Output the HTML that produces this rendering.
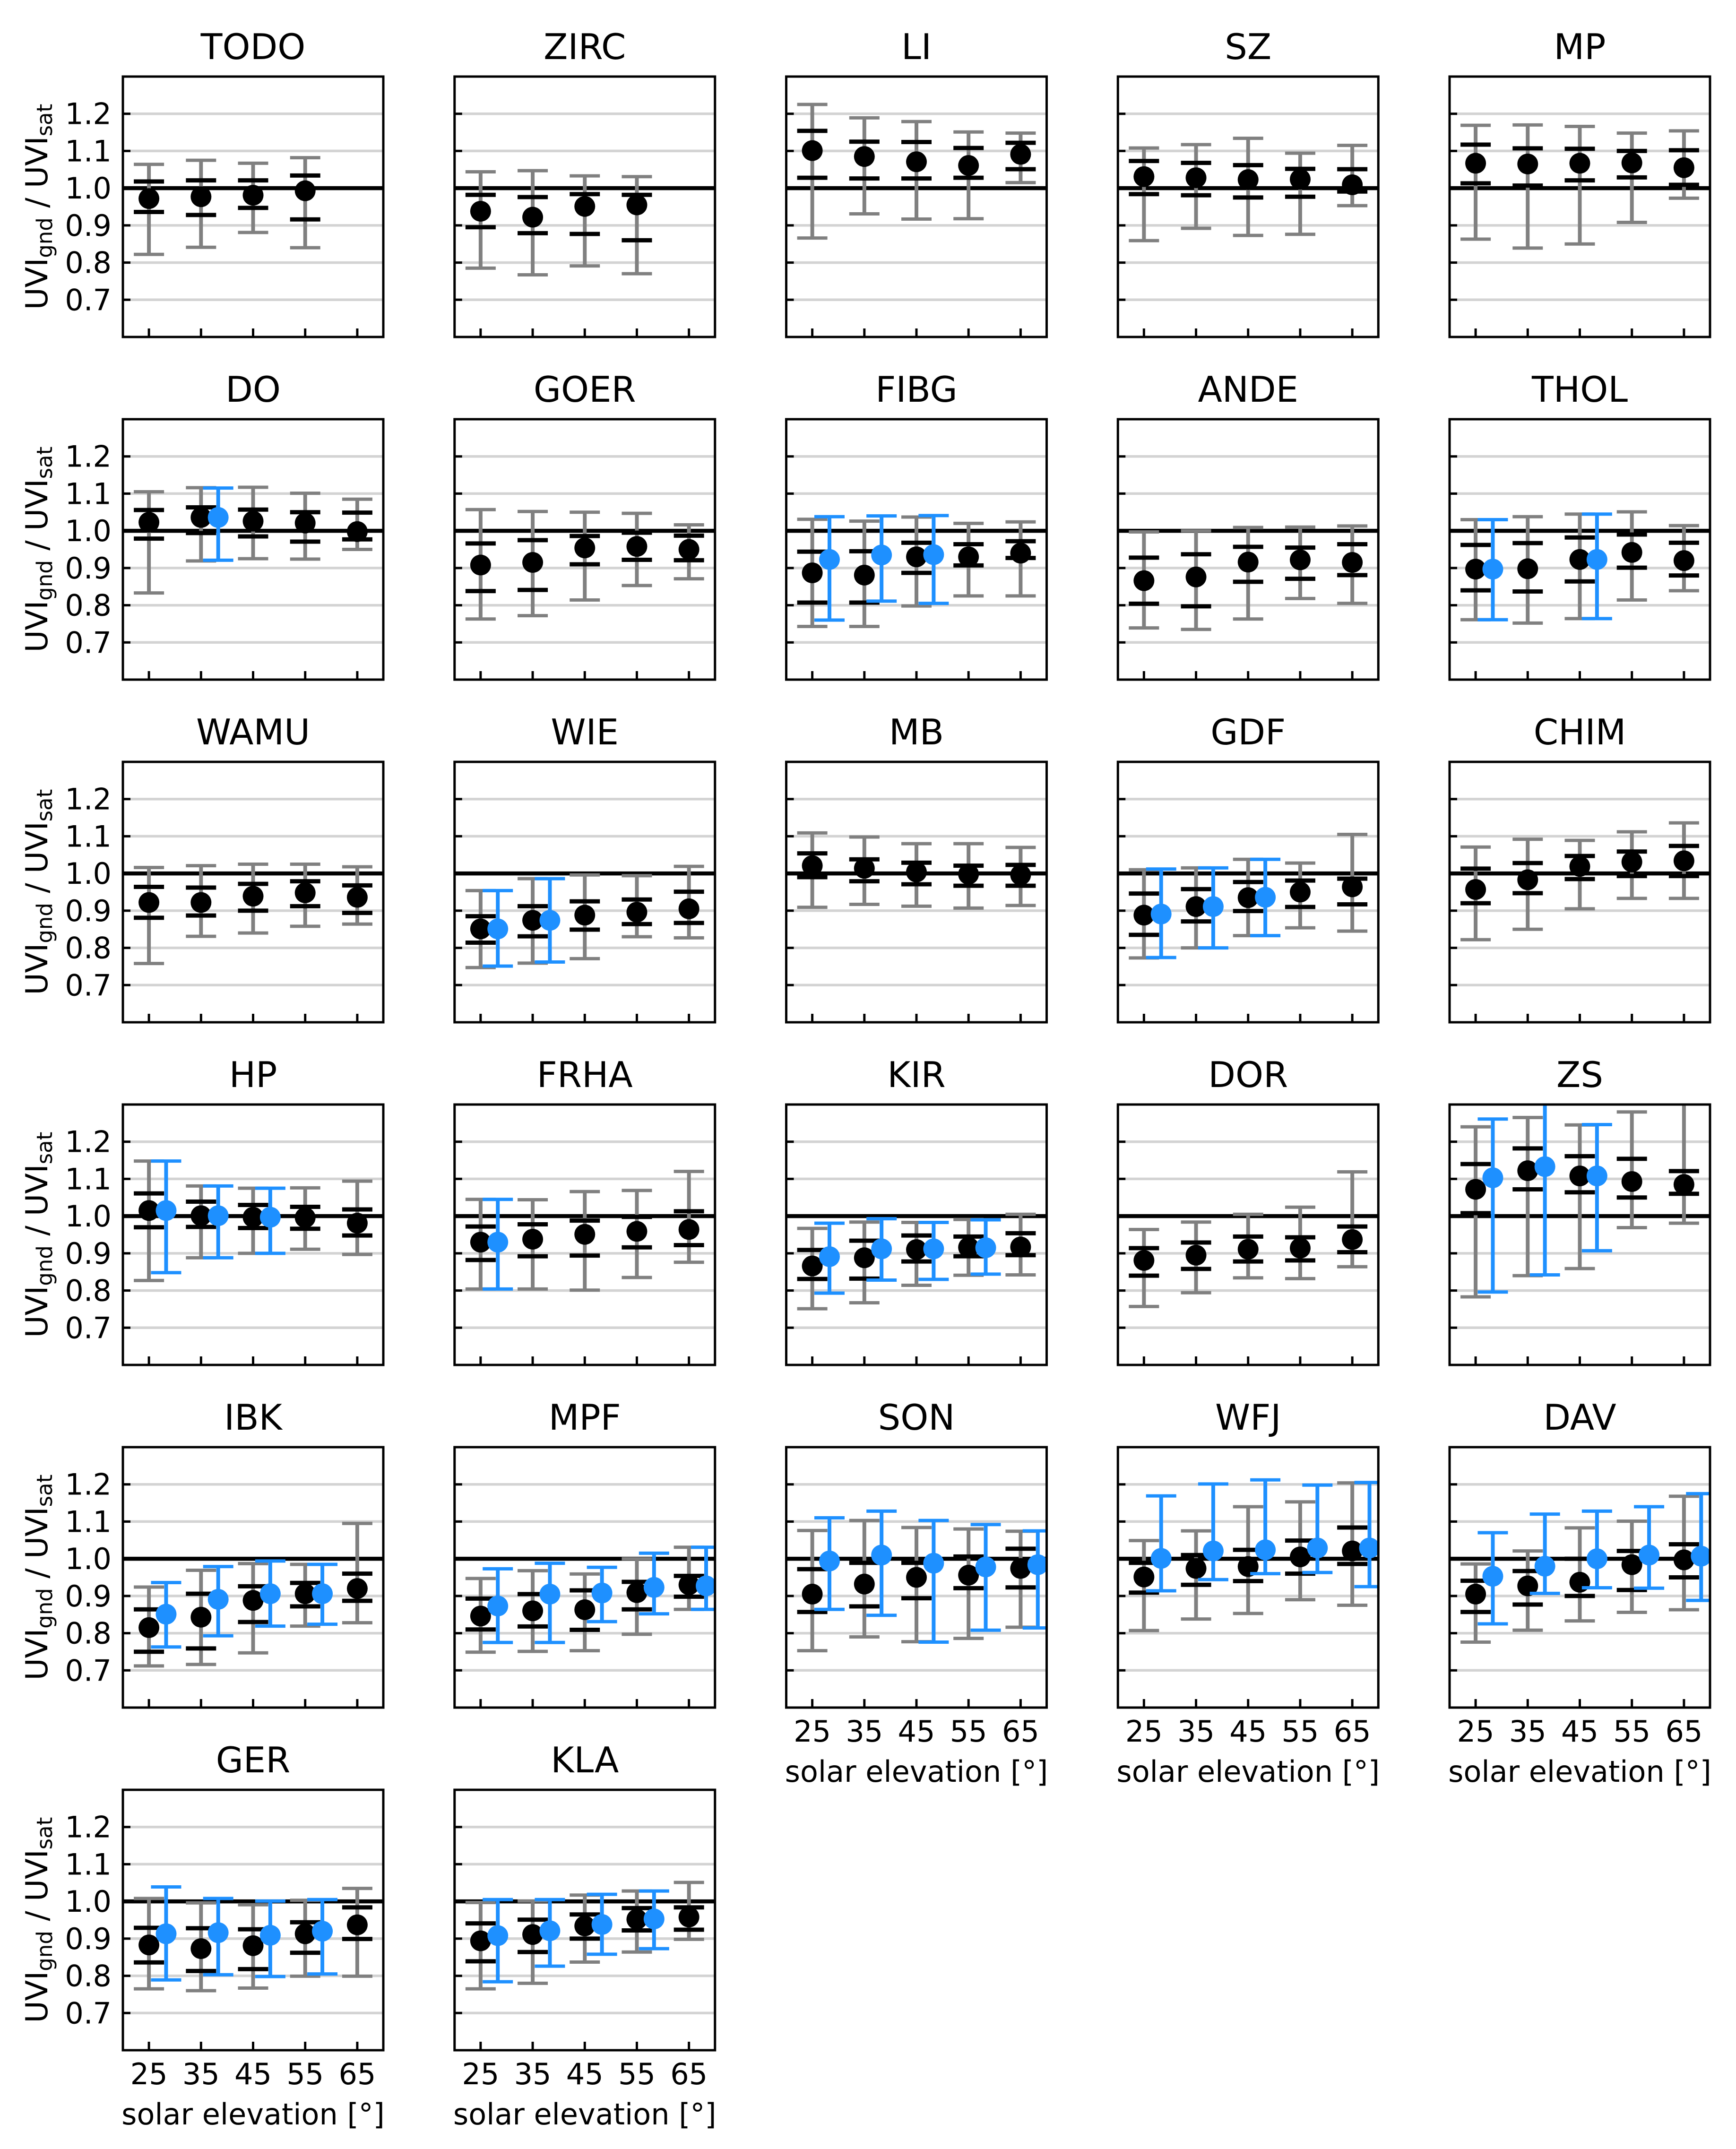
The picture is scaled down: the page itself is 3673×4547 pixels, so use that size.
<!DOCTYPE html>
<html><head><meta charset="utf-8"><title>UVI ratio panels</title>
<style>
html,body{margin:0;padding:0;background:#fff;}
svg{display:block;font-family:"DejaVu Sans","Liberation Sans",sans-serif;}
</style></head>
<body>
<svg id="fig" width="3673" height="4547" viewBox="0 0 3673 4547" xmlns="http://www.w3.org/2000/svg"></svg>
<script>
const stations = ["TODO","ZIRC","LI","SZ","MP","DO","GOER","FIBG","ANDE","THOL","WAMU","WIE","MB","GDF","CHIM","HP","FRHA","KIR","DOR","ZS","IBK","MPF","SON","WFJ","DAV","GER","KLA"];
const elevations = [25,35,45,55,65];
const yTicks = [0.7,0.8,0.9,1.0,1.1,1.2];
const yTickLabels = ["0.7","0.8","0.9","1.0","1.1","1.2"];
const xTickLabels = ["25","35","45","55","65"];
const meanVals = [
[0.972,0.977,0.981,0.993,null],[0.938,0.922,0.951,0.955,null],[1.101,1.085,1.071,1.061,1.091],[1.031,1.028,1.023,1.024,1.009],[1.067,1.065,1.067,1.068,1.055],
[1.023,1.036,1.026,1.021,0.998],[0.908,0.915,0.954,0.958,0.950],[0.887,0.881,0.930,0.930,0.940],[0.866,0.876,0.916,0.922,0.915],[0.897,0.898,0.923,0.942,0.920],
[0.922,0.922,0.939,0.948,0.936],[0.851,0.874,0.888,0.896,0.905],[1.021,1.014,1.004,0.998,0.996],[0.888,0.911,0.935,0.950,0.964],[0.957,0.983,1.019,1.031,1.034],
[1.015,1.001,0.997,0.996,0.981],[0.930,0.938,0.951,0.959,0.964],[0.866,0.888,0.910,0.916,0.917],[0.881,0.895,0.911,0.914,0.937],[1.072,1.122,1.108,1.093,1.085],
[0.815,0.843,0.888,0.906,0.920],[0.846,0.860,0.863,0.909,0.930],[0.905,0.932,0.950,0.956,0.974],[0.951,0.974,0.979,1.005,1.021],[0.905,0.927,0.937,0.984,0.997],
[0.883,0.873,0.881,0.913,0.937],[0.894,0.911,0.934,0.952,0.958]];
const q25Vals = [
[0.936,0.928,0.947,0.916,null],[0.895,0.879,0.877,0.860,null],[1.028,1.026,1.026,1.028,1.051],[0.984,0.981,0.975,0.977,0.991],[1.013,1.007,1.021,1.029,1.009],
[0.979,0.994,0.985,0.971,0.977],[0.838,0.841,0.910,0.922,0.921],[0.807,0.807,0.887,0.907,0.927],[0.804,0.797,0.863,0.871,0.881],[0.840,0.837,0.864,0.901,0.880],
[0.881,0.887,0.900,0.912,0.894],[0.814,0.831,0.849,0.864,0.867],[0.990,0.979,0.971,0.967,0.967],[0.835,0.871,0.899,0.910,0.917],[0.920,0.947,0.985,0.993,0.993],
[0.970,0.971,0.968,0.966,0.948],[0.882,0.892,0.894,0.916,0.922],[0.831,0.832,0.878,0.892,0.895],[0.840,0.858,0.878,0.881,0.903],[1.008,1.072,1.064,1.050,1.060],
[0.750,0.759,0.830,0.872,0.887],[0.810,0.818,0.809,0.864,0.898],[0.857,0.872,0.894,0.921,0.923],[0.909,0.930,0.940,0.960,0.986],[0.857,0.877,0.900,0.916,0.950],
[0.836,0.813,0.818,0.862,0.899],[0.839,0.864,0.900,0.922,0.924]];
const q75Vals = [
[1.018,1.021,1.021,1.034,null],[0.982,0.976,0.984,0.982,null],[1.154,1.125,1.124,1.108,1.122],[1.073,1.068,1.062,1.052,1.051],[1.117,1.107,1.106,1.100,1.102],
[1.056,1.063,1.057,1.050,1.049],[0.966,0.975,0.986,0.995,0.987],[0.944,0.945,0.968,0.964,0.972],[0.928,0.937,0.957,0.955,0.964],[0.962,0.967,0.982,0.990,0.968],
[0.964,0.962,0.972,0.979,0.968],[0.885,0.912,0.925,0.930,0.951],[1.054,1.038,1.029,1.021,1.023],[0.946,0.958,0.977,0.981,0.986],[1.013,1.028,1.047,1.059,1.074],
[1.061,1.039,1.030,1.025,1.018],[0.972,0.978,0.988,0.998,1.013],[0.909,0.934,0.948,0.945,0.954],[0.914,0.929,0.945,0.943,0.972],[1.140,1.182,1.161,1.154,1.121],
[0.864,0.906,0.926,0.935,0.960],[0.893,0.905,0.915,0.938,0.954],[0.972,0.989,0.989,1.006,1.027],[0.989,1.010,1.024,1.049,1.084],[0.941,0.967,1.000,1.021,1.039],
[0.929,0.928,0.925,0.944,0.984],[0.941,0.951,0.965,0.982,0.984]];
const p05Vals = [
[0.822,0.841,0.881,0.840,null],[0.785,0.767,0.791,0.770,null],[0.866,0.931,0.917,0.918,1.015],[0.859,0.892,0.873,0.876,0.953],[0.863,0.839,0.850,0.908,0.973],
[0.833,0.919,0.925,0.924,0.950],[0.763,0.772,0.814,0.853,0.871],[0.743,0.743,0.798,0.825,0.825],[0.739,0.735,0.763,0.818,0.805],[0.761,0.752,0.764,0.814,0.839],
[0.758,0.831,0.840,0.858,0.864],[0.747,0.759,0.771,0.830,0.827],[0.909,0.917,0.912,0.907,0.914],[0.773,0.800,0.833,0.854,0.845],[0.822,0.850,0.905,0.933,0.933],
[0.827,0.888,0.900,0.911,0.897],[0.804,0.804,0.801,0.835,0.876],[0.751,0.767,0.814,0.841,0.842],[0.757,0.794,0.834,0.832,0.864],[0.783,0.840,0.859,0.969,0.981],
[0.712,0.716,0.747,0.819,0.828],[0.749,0.751,0.753,0.797,0.864],[0.753,0.790,0.777,0.786,0.816],[0.807,0.838,0.853,0.890,0.875],[0.776,0.808,0.833,0.856,0.863],
[0.765,0.760,0.767,0.799,0.799],[0.765,0.780,0.837,0.864,0.898]];
const p95Vals = [
[1.064,1.075,1.067,1.082,null],[1.044,1.047,1.033,1.031,null],[1.225,1.189,1.179,1.151,1.148],[1.108,1.117,1.134,1.094,1.115],[1.169,1.170,1.166,1.148,1.154],
[1.105,1.116,1.117,1.101,1.085],[1.057,1.052,1.050,1.047,1.016],[1.031,1.026,1.037,1.020,1.024],[0.997,1.000,1.009,1.010,1.013],[1.030,1.038,1.045,1.051,1.014],
[1.016,1.021,1.025,1.025,1.018],[0.954,0.986,0.996,0.994,1.019],[1.109,1.098,1.080,1.080,1.070],[1.010,1.015,1.038,1.028,1.105],[1.071,1.092,1.089,1.112,1.136],
[1.148,1.081,1.075,1.076,1.094],[1.045,1.044,1.066,1.069,1.120],[0.967,0.984,0.983,0.991,1.005],[0.964,0.984,1.005,1.024,1.119],[1.240,1.265,1.245,1.280,1.320],
[0.924,0.969,0.987,0.985,1.095],[0.947,0.968,0.959,1.000,1.031],[1.076,1.103,1.084,1.080,1.074],[1.049,1.075,1.140,1.153,1.204],[0.986,1.021,1.083,1.101,1.168],
[1.008,0.996,0.991,1.003,1.035],[0.997,1.001,1.017,1.028,1.051]];
const N = null;
const blueMean = [
[N,N,N,N,N],[N,N,N,N,N],[N,N,N,N,N],[N,N,N,N,N],[N,N,N,N,N],
[N,1.036,N,N,N],[N,N,N,N,N],[0.923,0.935,0.936,N,N],[N,N,N,N,N],[0.897,N,0.923,N,N],
[N,N,N,N,N],[0.851,0.874,N,N,N],[N,N,N,N,N],[0.891,0.911,0.936,N,N],[N,N,N,N,N],
[1.015,1.001,0.997,N,N],[0.930,N,N,N,N],[0.891,0.912,0.912,0.915,N],[N,N,N,N,N],[1.103,1.133,1.108,N,N],
[0.851,0.891,0.906,0.906,N],[0.873,0.905,0.908,0.923,0.927],[0.994,1.010,0.988,0.978,0.984],[1.001,1.021,1.024,1.029,1.029],[0.953,0.980,1.000,1.010,1.007],
[0.913,0.916,0.909,0.920,N],[0.908,0.921,0.938,0.953,N]];
const blueLo = [
[N,N,N,N,N],[N,N,N,N,N],[N,N,N,N,N],[N,N,N,N,N],[N,N,N,N,N],
[N,0.921,N,N,N],[N,N,N,N,N],[0.760,0.811,0.805,N,N],[N,N,N,N,N],[0.761,N,0.764,N,N],
[N,N,N,N,N],[0.751,0.762,N,N,N],[N,N,N,N,N],[0.774,0.800,0.833,N,N],[N,N,N,N,N],
[0.848,0.888,0.900,N,N],[0.804,N,N,N,N],[0.793,0.828,0.830,0.844,N],[N,N,N,N,N],[0.796,0.842,0.907,N,N],
[0.763,0.793,0.819,0.824,N],[0.775,0.775,0.831,0.852,0.864],[0.864,0.848,0.776,0.808,0.814],[0.914,0.944,0.960,0.963,0.925],[0.825,0.907,0.922,0.921,0.888],
[0.789,0.803,0.798,0.805,N],[0.784,0.826,0.858,0.873,N]];
const blueHi = [
[N,N,N,N,N],[N,N,N,N,N],[N,N,N,N,N],[N,N,N,N,N],[N,N,N,N,N],
[N,1.115,N,N,N],[N,N,N,N,N],[1.038,1.040,1.041,N,N],[N,N,N,N,N],[1.030,N,1.045,N,N],
[N,N,N,N,N],[0.954,0.986,N,N,N],[N,N,N,N,N],[1.012,1.015,1.038,N,N],[N,N,N,N,N],
[1.148,1.081,1.075,N,N],[1.045,N,N,N,N],[0.981,0.993,0.983,0.990,N],[N,N,N,N,N],[1.261,1.320,1.246,N,N],
[0.936,0.979,0.994,0.985,N],[0.973,0.988,0.977,1.015,1.031],[1.110,1.128,1.103,1.092,1.075],[1.169,1.201,1.212,1.198,1.205],[1.070,1.120,1.128,1.140,1.175],
[1.039,1.008,1.001,1.005,N],[1.005,1.005,1.019,1.028,N]];
const xLabelStations = ["SON","WFJ","DAV","GER","KLA"];

const NS = "http://www.w3.org/2000/svg";
const svg = document.getElementById("fig");
const BOX = 551, X0 = 260, DX = 701.75, Y0 = 162, DY = 725;
const XMIN = 20, XMAX = 70, YMIN = 0.6, YMAX = 1.3;
const BLUE_OFF = 3.3, CAP = 32, R = 22;

function mk(tag, attrs, parent) {
  const el = document.createElementNS(NS, tag);
  for (const k in attrs) el.setAttribute(k, attrs[k]);
  (parent || svg).appendChild(el);
  return el;
}

stations.forEach((name, i) => {
  const col = i % 5, row = Math.floor(i / 5);
  const L = X0 + col * DX, T = Y0 + row * DY;
  const xs = v => L + (v - XMIN) / (XMAX - XMIN) * BOX;
  const ys = v => T + BOX - (v - YMIN) / (YMAX - YMIN) * BOX;

  const g = mk("g", {});
  
  

  const clipId = "clip" + i;
  const cp = mk("clipPath", {id: clipId}, g);
  mk("rect", {x: L, y: T, width: BOX, height: BOX}, cp);

  const title = mk("text", {x: L + BOX / 2, y: T - 37, "text-anchor": "middle", "font-size": 75, fill: "#000"}, g);
  title.textContent = name;
  
  

  const plot = mk("g", {"clip-path": "url(#" + clipId + ")"}, g);
  yTicks.forEach(v => {
    const gl = mk("line", {x1: L, x2: L + BOX, y1: ys(v), y2: ys(v), stroke: "#d3d3d3", "stroke-width": 5.5}, plot);
    
    
  });
  const ref = mk("line", {x1: L, x2: L + BOX, y1: ys(1.0), y2: ys(1.0), stroke: "#000", "stroke-width": 8.5}, plot);
  
  

  elevations.forEach((e, j) => {
    const m = meanVals[i][j];
    if (m === null) return;
    const x = xs(e);
    const eg = mk("g", {}, plot);
    
    
    const lo = p05Vals[i][j], hi = p95Vals[i][j];
    mk("line", {x1: x, x2: x, y1: ys(lo), y2: ys(hi), stroke: "#808080", "stroke-width": 8}, eg);
    mk("line", {x1: x - CAP, x2: x + CAP, y1: ys(lo), y2: ys(lo), stroke: "#808080", "stroke-width": 7}, eg);
    mk("line", {x1: x - CAP, x2: x + CAP, y1: ys(hi), y2: ys(hi), stroke: "#808080", "stroke-width": 7}, eg);
    mk("line", {x1: x - CAP, x2: x + CAP, y1: ys(q25Vals[i][j]), y2: ys(q25Vals[i][j]), stroke: "#000", "stroke-width": 9}, eg);
    mk("line", {x1: x - CAP, x2: x + CAP, y1: ys(q75Vals[i][j]), y2: ys(q75Vals[i][j]), stroke: "#000", "stroke-width": 9}, eg);
    const c = mk("circle", {cx: x, cy: ys(m), r: R, fill: "#000"}, eg);
    
    
  });
  elevations.forEach((e, j) => {
    const bm = blueMean[i][j];
    if (bm === null) return;
    const x = xs(e + BLUE_OFF);
    const bg = mk("g", {}, plot);
    
    
    const lo = blueLo[i][j], hi = blueHi[i][j];
    mk("line", {x1: x, x2: x, y1: ys(lo), y2: ys(hi), stroke: "#1e90ff", "stroke-width": 8}, bg);
    mk("line", {x1: x - CAP, x2: x + CAP, y1: ys(lo), y2: ys(lo), stroke: "#1e90ff", "stroke-width": 7}, bg);
    mk("line", {x1: x - CAP, x2: x + CAP, y1: ys(hi), y2: ys(hi), stroke: "#1e90ff", "stroke-width": 7}, bg);
    const c = mk("circle", {cx: x, cy: ys(bm), r: R, fill: "#1e90ff"}, bg);
    
    
  });

  yTicks.forEach(v => {
    mk("line", {x1: L, x2: L + 16, y1: ys(v), y2: ys(v), stroke: "#000", "stroke-width": 5}, g);
  });
  elevations.forEach(e => {
    mk("line", {x1: xs(e), x2: xs(e), y1: T + BOX, y2: T + BOX - 18, stroke: "#000", "stroke-width": 5}, g);
  });
  const frame = mk("rect", {x: L, y: T, width: BOX, height: BOX, fill: "none", stroke: "#000", "stroke-width": 5}, g);
  
  

  if (col === 0) {
    yTicks.forEach((v, k) => {
      const t = mk("text", {x: L - 24, y: ys(v) + 22, "text-anchor": "end", "font-size": 62, fill: "#000"}, g);
      t.textContent = yTickLabels[k];
      
      
    });
    const cy = T + BOX / 2;
    const yl = mk("text", {x: 0, y: 0, "text-anchor": "middle", "font-size": 64, fill: "#000", transform: "translate(100," + cy + ") rotate(-90)"}, g);
    
    
    yl.innerHTML = 'UVI<tspan font-size="45" dy="10">gnd</tspan><tspan dy="-10"> / UVI</tspan><tspan font-size="45" dy="10">sat</tspan>';
  }
  if (xLabelStations.indexOf(name) >= 0) {
    elevations.forEach((e, k) => {
      const t = mk("text", {x: xs(e), y: T + BOX + 72, "text-anchor": "middle", "font-size": 62, fill: "#000"}, g);
      t.textContent = xTickLabels[k];
      
      
    });
    const xl = mk("text", {x: L + BOX / 2, y: T + BOX + 157, "text-anchor": "middle", "font-size": 62, fill: "#000"}, g);
    xl.textContent = "solar elevation [°]";
    
    
  }
});
</script>
</body></html>
